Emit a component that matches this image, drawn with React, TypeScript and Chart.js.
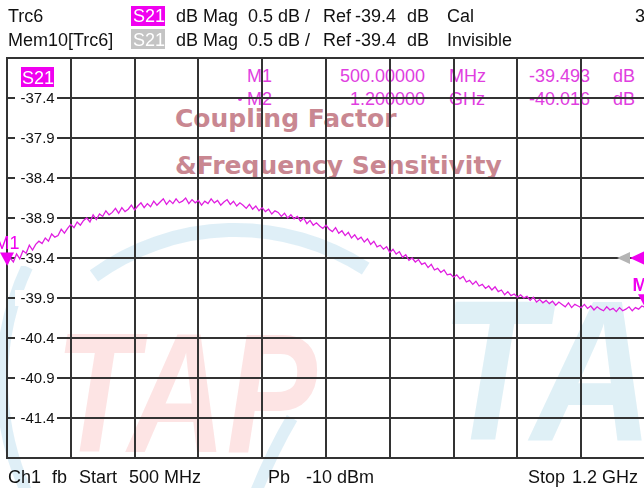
import React, { useEffect, useRef } from "react";
import { Chart, registerables } from "chart.js";

Chart.register(...registerables);

// ---- Data ----
const START_MHZ = 500;
const STOP_MHZ = 1200;
const SWEEP_STEP_MHZ = 3.5;
const REF_LEVEL_DB = -39.4;

const S21_DB = [
  -39.49, -39.40, -39.45, -39.35, -39.41, -39.31, -39.34, -39.24, -39.30, -39.23,
  -39.19, -39.22, -39.15, -39.19, -39.10, -39.14, -39.12, -39.04, -39.09, -39.03,
  -38.98, -39.02, -38.95, -38.99, -38.93, -38.90, -38.95, -38.86, -38.92, -38.85,
  -38.88, -38.81, -38.86, -38.83, -38.78, -38.84, -38.77, -38.82, -38.79, -38.74,
  -38.80, -38.75, -38.71, -38.77, -38.72, -38.76, -38.69, -38.74, -38.70, -38.66,
  -38.73, -38.68, -38.72, -38.66, -38.71, -38.69, -38.65, -38.72, -38.67, -38.71,
  -38.68, -38.74, -38.69, -38.72, -38.66, -38.71, -38.68, -38.74, -38.70, -38.67,
  -38.73, -38.69, -38.75, -38.71, -38.74, -38.78, -38.73, -38.79, -38.75, -38.81,
  -38.77, -38.82, -38.79, -38.85, -38.81, -38.83, -38.88, -38.84, -38.90, -38.86,
  -38.91, -38.88, -38.94, -38.90, -38.97, -38.93, -38.99, -38.96, -39.00, -39.03,
  -38.99, -39.04, -39.07, -39.02, -39.09, -39.06, -39.12, -39.08, -39.15, -39.11,
  -39.17, -39.14, -39.20, -39.16, -39.23, -39.19, -39.26, -39.24, -39.29, -39.26,
  -39.33, -39.29, -39.35, -39.32, -39.39, -39.36, -39.43, -39.40, -39.45, -39.42,
  -39.48, -39.46, -39.52, -39.48, -39.55, -39.53, -39.58, -39.55, -39.61, -39.60,
  -39.64, -39.61, -39.66, -39.63, -39.70, -39.68, -39.73, -39.69, -39.75, -39.73,
  -39.78, -39.75, -39.80, -39.76, -39.82, -39.80, -39.86, -39.82, -39.87, -39.85,
  -39.89, -39.86, -39.90, -39.88, -39.93, -39.89, -39.95, -39.92, -39.96, -39.93,
  -39.97, -39.94, -39.99, -39.95, -39.98, -40.01, -39.96, -40.02, -39.98, -40.00,
  -40.02, -39.98, -40.03, -40.00, -40.05, -40.01, -40.04, -40.06, -40.01, -40.05,
  -40.03, -40.07, -40.02, -40.06, -40.04, -40.01, -40.06, -40.02, -40.04, -40.00,
  -40.016,
];

const Y_GRID_DB = [-41.9, -41.4, -40.9, -40.4, -39.9, -39.4, -38.9, -38.4, -37.9, -37.4, -36.9];
const Y_LABELS = ["-41.4", "-40.9", "-40.4", "-39.9", "-39.4", "-38.9", "-38.4", "-37.9", "-37.4"];
const X_GRID_MHZ = [500, 570, 640, 710, 780, 850, 920, 990, 1060, 1130, 1200];

const MARKER_NAMES = ["M1", "M2"];
const MARKER_FREQ_MHZ = [500, 1200];
const MARKER_DB = [-39.493, -40.016];
const MARKER_FREQ_TEXT = ["500.00000", "1.200000"];
const MARKER_UNIT_TEXT = ["MHz", "GHz"];
const MARKER_DB_TEXT = ["-39.493", "-40.016"];

const MAGENTA = "#f000f0";
const TRACE = "#e01ee0";
const MARK_TXT = "#e03ee0";
const FONT = '"Liberation Sans", Arial, sans-serif';

const deg = (d: number) => (d * Math.PI) / 180;

const watermarkPlugin = {
  id: "watermark",
  beforeDraw(chart: any) {
    const ctx = chart.ctx;
    ctx.save();
    // light blue swooshes
    ctx.strokeStyle = "rgba(120,190,220,0.24)";
    ctx.lineWidth = 14;
    ctx.beginPath();
    ctx.arc(235, 470, 240, deg(234), deg(303));
    ctx.stroke();
    ctx.lineWidth = 12;
    ctx.beginPath();
    ctx.arc(270, 380, 268, deg(150), deg(205));
    ctx.stroke();
    ctx.beginPath();
    ctx.moveTo(292, 418);
    ctx.quadraticCurveTo(272, 452, 256, 492);
    ctx.stroke();
    // pink letters
    ctx.save();
    ctx.fillStyle = "rgba(245,90,90,0.16)";
    ctx.translate(55, 452);
    ctx.scale(0.8, 1);
    ctx.font = `italic bold 170px ${FONT}`;
    ctx.fillText("TAP", 0, 0);
    ctx.restore();
    // blue letters
    ctx.save();
    ctx.fillStyle = "rgba(110,185,215,0.22)";
    ctx.translate(440, 440);
    ctx.scale(0.85, 1);
    ctx.font = `italic bold 200px ${FONT}`;
    ctx.fillText("TAP", 0, 0);
    ctx.restore();
    ctx.restore();
  },
};

const labelsPlugin = {
  id: "ylabels",
  beforeDatasetsDraw(chart: any) {
    const ctx = chart.ctx;
    const ys = chart.scales.y;
    const left = chart.chartArea.left;
    ctx.save();
    ctx.font = `15px ${FONT}`;
    ctx.textBaseline = "middle";
    ctx.textAlign = "left";
    Y_LABELS.forEach((lab) => {
      const y = ys.getPixelForValue(parseFloat(lab));
      ctx.fillStyle = "#ffffff";
      ctx.fillRect(left + 8, y - 8, 42, 16);
      ctx.fillStyle = "#111";
      ctx.fillText(lab, left + 13.5, y + 0.5);
    });
    // S21 box in plot
    ctx.fillStyle = MAGENTA;
    ctx.fillRect(left + 14, 67, 33, 20);
    ctx.fillStyle = "#fff";
    ctx.font = `18px ${FONT}`;
    ctx.textBaseline = "alphabetic";
    ctx.fillText("S21", left + 15, 83.5);
    ctx.restore();
  },
};

const markersPlugin = {
  id: "markers",
  afterDatasetsDraw(chart: any) {
    const ctx = chart.ctx;
    const xs = chart.scales.x;
    const ys = chart.scales.y;
    const { right } = chart.chartArea;
    ctx.save();
    // reference level arrows
    const yr = ys.getPixelForValue(REF_LEVEL_DB);
    ctx.fillStyle = "#b4b4b4";
    ctx.beginPath();
    ctx.moveTo(right - 28, yr);
    ctx.lineTo(right - 15, yr - 6);
    ctx.lineTo(right - 15, yr + 6);
    ctx.closePath();
    ctx.fill();
    ctx.fillStyle = MAGENTA;
    ctx.beginPath();
    ctx.moveTo(right - 15, yr);
    ctx.lineTo(right + 2, yr - 8);
    ctx.lineTo(right + 2, yr + 8);
    ctx.closePath();
    ctx.fill();
    // markers
    MARKER_NAMES.forEach((name, i) => {
      const x = xs.getPixelForValue(MARKER_FREQ_MHZ[i]);
      const y = ys.getPixelForValue(MARKER_DB[i]);
      ctx.fillStyle = MAGENTA;
      ctx.beginPath();
      ctx.moveTo(x, y);
      ctx.lineTo(x - 7, y - 13);
      ctx.lineTo(x + 7, y - 13);
      ctx.closePath();
      ctx.fill();
      ctx.font = `${i === 1 ? "bold " : ""}18px ${FONT}`;
      ctx.textAlign = "center";
      ctx.textBaseline = "alphabetic";
      ctx.fillText(name, x, y - 16);
    });
    ctx.restore();
  },
};

type TP = { x: number; b: number; s?: number; c?: string; w?: string; f?: string; right?: boolean; children: any };
const T = ({ x, b, s = 18, c = "#111", w = "normal", f = FONT, right = false, children }: TP) => {
  const style: any = {
    position: "absolute",
    top: b - 0.846 * s,
    fontSize: s,
    lineHeight: `${s}px`,
    fontFamily: f,
    fontWeight: w,
    color: c,
    whiteSpace: "pre",
  };
  if (right) style.right = 644 - x;
  else style.left = x;
  return <span style={style}>{children}</span>;
};

export default function App() {
  const ref = useRef<HTMLCanvasElement | null>(null);
  useEffect(() => {
    if (!ref.current) return;
    const points = S21_DB.map((v, i) => ({ x: START_MHZ + i * SWEEP_STEP_MHZ, y: v }));
    const chart = new Chart(ref.current, {
      type: "line",
      data: {
        datasets: [
          {
            data: points,
            borderColor: TRACE,
            borderWidth: 1.3,
            pointRadius: 0,
            tension: 0,
            fill: false,
          },
        ],
      },
      options: {
        animation: false,
        responsive: false,
        maintainAspectRatio: false,
        devicePixelRatio: 1,
        layout: { padding: { left: 7, top: 58, right: 15, bottom: 30 } },
        plugins: { legend: { display: false }, tooltip: { enabled: false }, title: { display: false } },
        scales: {
          x: {
            type: "linear",
            min: START_MHZ,
            max: STOP_MHZ,
            afterBuildTicks: (scale: any) => {
              scale.ticks = X_GRID_MHZ.map((v) => ({ value: v }));
            },
            ticks: { display: false },
            grid: { color: "#333", lineWidth: 2, drawTicks: false },
            border: { color: "#333", width: 2 },
          },
          y: {
            type: "linear",
            min: Y_GRID_DB[0],
            max: Y_GRID_DB[Y_GRID_DB.length - 1],
            afterBuildTicks: (scale: any) => {
              scale.ticks = Y_GRID_DB.map((v) => ({ value: v }));
            },
            ticks: { display: false },
            grid: { color: "#333", lineWidth: 2, drawTicks: false },
            border: { color: "#333", width: 2 },
          },
        },
      } as any,
      plugins: [watermarkPlugin, labelsPlugin, markersPlugin],
    });
    return () => chart.destroy();
  }, []);

  const titleC = "#c98791";
  const DJ = '"DejaVu Sans", Verdana, sans-serif';

  return (
    <div
      style={{
        position: "fixed",
        left: 0,
        top: 0,
        width: 644,
        height: 488,
        overflow: "hidden",
        background: "#fff",
        fontFamily: FONT,
      }}
    >
      {/* layer under grid */}
      <T x={175} b={127} s={25} w="bold" f={DJ} c={titleC}>Coupling Factor</T>
      <T x={175} b={174} s={25} w="bold" f={DJ} c={titleC}>&amp;Frequency Sensitivity</T>
      {MARKER_NAMES.map((n, i) => (
        <React.Fragment key={n}>
          <T x={247} b={82 + i * 23} c={MARK_TXT}>{n}</T>
          <T x={425} b={82 + i * 23} c={MARK_TXT} right>{MARKER_FREQ_TEXT[i]}</T>
          <T x={449} b={82 + i * 23} c={MARK_TXT}>{MARKER_UNIT_TEXT[i]}</T>
          <T x={590} b={82 + i * 23} c={MARK_TXT} right>{MARKER_DB_TEXT[i]}</T>
          <T x={613} b={82 + i * 23} c={MARK_TXT}>dB</T>
        </React.Fragment>
      ))}
      <span style={{ position: "absolute", left: 238, top: 97, width: 4, height: 4, borderRadius: 2, background: MARK_TXT }} />

      <canvas
        ref={ref}
        width={660}
        height={488}
        style={{ position: "absolute", left: 0, top: 0, width: 660, height: 488 }}
      />

      {/* header */}
      <T x={8} b={22.5}>Trc6</T>
      <span style={{ position: "absolute", left: 131, top: 6, width: 34, height: 20, background: MAGENTA }} />
      <T x={133} b={22.5} c="#fff">S21</T>
      <T x={176} b={22.5}>dB Mag</T>
      <T x={248} b={22.5}>0.5 dB /</T>
      <T x={323} b={22.5}>Ref</T>
      <T x={355} b={22.5}>-39.4</T>
      <T x={407} b={22.5}>dB</T>
      <T x={447} b={22.5}>Cal</T>
      <T x={635} b={22.5}>3</T>

      <T x={8} b={46.5}>Mem10[Trc6]</T>
      <span style={{ position: "absolute", left: 131, top: 29, width: 34, height: 20, background: "#c4c4c4" }} />
      <T x={133} b={46.5} c="#fff">S21</T>
      <T x={176} b={46.5}>dB Mag</T>
      <T x={248} b={46.5}>0.5 dB /</T>
      <T x={323} b={46.5}>Ref</T>
      <T x={355} b={46.5}>-39.4</T>
      <T x={407} b={46.5}>dB</T>
      <T x={447} b={46.5}>Invisible</T>

      {/* footer */}
      <T x={8} b={483}>Ch1</T>
      <T x={52} b={483}>fb</T>
      <T x={79} b={483}>Start</T>
      <T x={129} b={483}>500 MHz</T>
      <T x={268} b={483}>Pb</T>
      <T x={306} b={483}>-10 dBm</T>
      <T x={528} b={483}>Stop</T>
      <T x={572} b={483}>1.2 GHz</T>
    </div>
  );
}
